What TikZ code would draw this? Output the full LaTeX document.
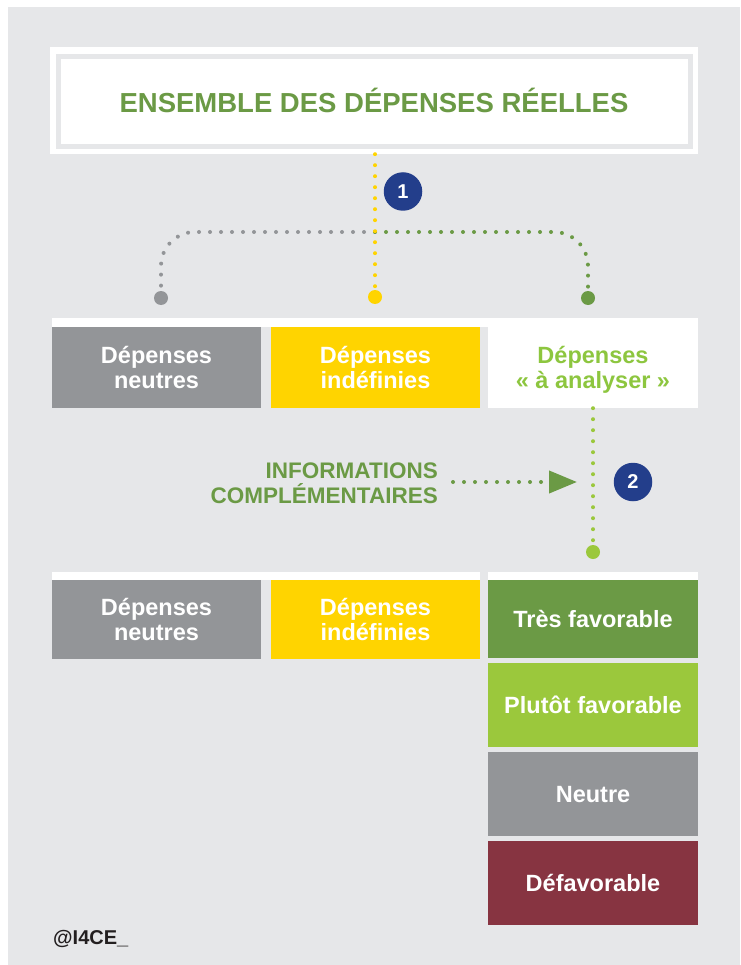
\documentclass[tikz,border=0pt]{standalone}
\usepackage{fontspec}
\setmainfont{Liberation Sans}
\usetikzlibrary{arrows.meta}
\definecolor{bg}{HTML}{E6E7E9}
\definecolor{dgreen}{HTML}{6B9A45}
\definecolor{lgreen}{HTML}{9BC83C}
\definecolor{tgreen}{HTML}{8DC63F}
\definecolor{mgray}{HTML}{939598}
\definecolor{ylw}{HTML}{FFD400}
\definecolor{wine}{HTML}{873441}
\definecolor{navy}{HTML}{233E8B}
\definecolor{ink}{HTML}{231F20}
\begin{document}
\begin{tikzpicture}[x=1pt,y=-1pt,
  box/.style={rectangle, inner sep=0pt, minimum width=209pt, text=white, align=center,
    font=\bfseries\fontsize{23.5}{25.5}\selectfont, text depth=0pt},
  numc/.style={circle, fill=navy, text=white, minimum size=38.5pt, inner sep=0pt,
    font=\bfseries\fontsize{20}{20}\selectfont},
  enddot/.style={circle, minimum size=14pt, inner sep=0pt},
  dotline/.style={line width=4pt, line cap=round, dash pattern=on 0pt off 11pt},
]
\useasboundingbox (0,0) rectangle (740,965);
\fill[white] (0,0) rectangle (740,965);
\fill[bg] (8,7) rectangle (740,965);

% title box
\node[fill=white, minimum width=648pt, minimum height=107pt, inner sep=0pt,
      text=dgreen, font=\bfseries\fontsize{27.5}{30}\selectfont] (title) at (374,100.5)
      {ENSEMBLE DES DÉPENSES RÉELLES};
\draw[bg, line width=5pt] (58.5,56.5) rectangle (690.5,146.5);

% end dots of step 1
\node[enddot, fill=mgray] (dn) at (161,298) {};
\node[enddot, fill=ylw] (di) at (375,297) {};
\node[enddot, fill=dgreen] (da) at (588,298) {};
\coordinate (fork) at (375,232);

\draw[dotline, mgray, rounded corners=34pt] (fork) -| (dn.north);
\draw[dotline, dgreen, rounded corners=34pt] (fork) -| (da.north);
\draw[dotline, ylw] (title.south -| di.north) -- (di.north);

\node[numc] (n1) at (403,191.5) {1};

% row 1
\fill[white] (52,318) rectangle (698,327);
\node[box, fill=mgray, minimum height=81pt] (r1a) at (156.5,367.5) {Dépenses\\neutres};
\node[box, fill=ylw, minimum height=81pt] (r1b) at (375.5,367.5) {Dépenses\\indéfinies};
\node[box, fill=white, text=tgreen, minimum width=210pt, minimum height=81pt] (r1c) at (593,367.5) {Dépenses\\« à analyser »};

% step 2
\node[enddot, fill=lgreen] (d2) at (593,552) {};
\draw[dotline, lgreen] (r1c.south) -- (d2.north);
\node[numc] (n2) at (633,482) {2};

\node[anchor=east, align=right, inner sep=0pt, text=dgreen, text depth=0pt,
      font=\bfseries\fontsize{22.5}{25}\selectfont] (info) at (438,483.5)
      {INFORMATIONS\\COMPLÉMENTAIRES};
\coordinate (tip) at (577,482);
\draw[dotline, dgreen, -{Triangle[length=28pt,width=22pt]}] ([xshift=15pt]info.east |- tip) -- (tip);

% row 2
\fill[white] (52,572) rectangle (480,580);
\fill[white] (488,572) rectangle (698,580);
\node[box, fill=mgray, minimum height=79pt] (r2a) at (156.5,619.5) {Dépenses\\neutres};
\node[box, fill=ylw, minimum height=79pt] (r2b) at (375.5,619.5) {Dépenses\\indéfinies};
\node[box, fill=dgreen, minimum width=210pt, minimum height=78pt] (v1) at (593,619) {Très favorable};
\node[box, fill=lgreen, minimum width=210pt, minimum height=84pt] (v2) at (593,705) {Plutôt favorable};
\node[box, fill=mgray, minimum width=210pt, minimum height=84pt] (v3) at (593,794) {Neutre};
\node[box, fill=wine, minimum width=210pt, minimum height=84pt] (v4) at (593,883) {Défavorable};

\node[anchor=base west, inner sep=0pt, text=ink, font=\bfseries\fontsize{20}{20}\selectfont] (credit) at (53,944) {@I4CE\_};
\end{tikzpicture}
\end{document}
